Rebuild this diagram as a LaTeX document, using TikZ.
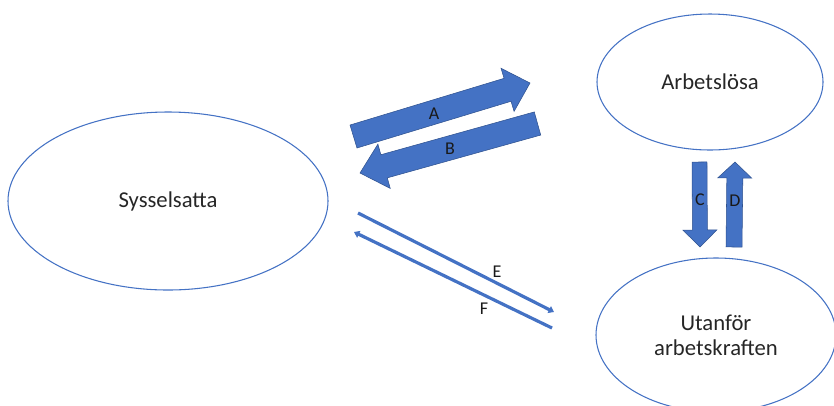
\documentclass[tikz,border=0pt]{standalone}
\usepackage{fontspec}
\setmainfont{Carlito}
\usetikzlibrary{calc,arrows.meta,shapes.geometric}
\definecolor{obl}{HTML}{4472C4}
\definecolor{obd}{HTML}{2F528F}
\newcommand{\blockarr}[6]{%
  \coordinate (#1-b) at ($(#3)!#5!(#2)$);
  \filldraw[blockfill] ($(#2)!#4!90:(#3)$) -- ($(#1-b)!#4!90:(#3)$) -- ($(#1-b)!#6!90:(#3)$) -- (#3) -- ($(#1-b)!#6!-90:(#3)$) -- ($(#1-b)!#4!-90:(#3)$) -- ($(#2)!#4!-90:(#3)$) -- cycle;}
\begin{document}
\begin{tikzpicture}[x=0.75pt,y=-0.75pt,
  state/.style={ellipse,draw=obl,line width=0.8pt,inner sep=0pt,align=center,
    font=\fontsize{17}{18.75}\selectfont,text=black!85},
  blockfill/.style={fill=obl,draw=obd,line width=0.4pt},
  lbl/.style={font=\fontsize{13.5}{16}\selectfont,text=black!90,inner sep=0pt},
  thinarr/.style={draw=obl,line width=2.4pt,-{Triangle[length=4pt,width=5.5pt]}}]
\useasboundingbox (0,0) rectangle (834,405);
\clip (0,0) rectangle (834,405);
\node[state,minimum width=240pt,minimum height=133.5pt] (sys) at (168,201) {Sysselsatta};
\node[state,minimum width=169.5pt,minimum height=102pt] (arb) at (710,82) {Arbetslösa};
\node[state,minimum width=180pt,minimum height=115.5pt] (uta) at (716,335) {Utanför\\arbetskraften};
% block arrows A, B
\coordinate (aT) at (353.5,136.5); \coordinate (aH) at (530,83);
\blockarr{a}{aT}{aH}{9pt}{17.6pt}{16.9pt}
\coordinate (bT) at (537.5,123.5); \coordinate (bH) at (360,173);
\blockarr{b}{bT}{bH}{9pt}{18.75pt}{17.25pt}
% block arrows C, D
\coordinate (cT) at (699.5,162); \coordinate (cH) at (700,247);
\blockarr{c}{cT}{cH}{5.6pt}{12.75pt}{12.75pt}
\coordinate (dT) at (734,247); \coordinate (dH) at (735,162);
\blockarr{d}{dT}{dH}{6pt}{12pt}{12.75pt}
% thin arrows E, F
\coordinate (eT) at (358,213); \coordinate (eH) at (554,312);
\draw[thinarr] (eT) -- (eH);
\coordinate (fT) at (552,328); \coordinate (fH) at (354,232);
\draw[thinarr] (fT) -- (fH);
% labels
\node[lbl] (la) at (434,114) {A};
\node[lbl] (lb) at (450,149) {B};
\node[lbl] (lc) at (700,200) {C};
\node[lbl] (ld) at (735,201) {D};
\node[lbl] (le) at (497,272) {E};
\node[lbl] (lf) at (484,309) {F};
\end{tikzpicture}
\end{document}
